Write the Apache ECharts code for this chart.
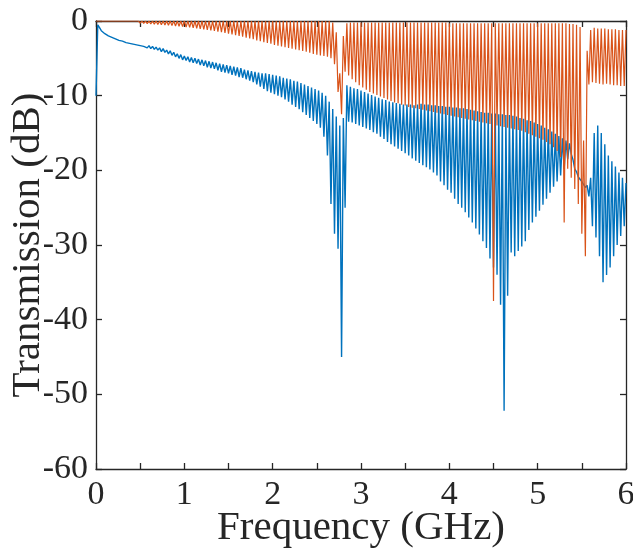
<!DOCTYPE html>
<html>
<head>
<meta charset="utf-8">
<script src="https://cdn.jsdelivr.net/npm/echarts@6/dist/echarts.min.js"></script>
<style>
  html, body { margin: 0; padding: 0; background: #fff; }
  #chart { width: 633px; height: 550px; }
</style>
</head>
<body>
<div id="chart"></div>
<script>
// sweep grid: one sample every 0.02 GHz from 0 to 6 GHz
const freqStep = 0.02

// blue trace (dB)
const blueDb = [
  -10, -0.5, -0.9, -1.3, -1.4, -1.7, -1.7, -2.0, -1.9, -2.2,
  -2.1, -2.4, -2.3, -2.6, -2.4, -2.7, -2.6, -2.9, -2.7, -3.0,
  -2.8, -3.1, -2.9, -3.2, -3.0, -3.3, -3.1, -3.4, -3.2, -3.6,
  -3.3, -3.7, -3.4, -3.8, -3.5, -3.9, -3.6, -4.1, -3.7, -4.2,
  -3.9, -4.4, -4.0, -4.6, -4.2, -4.8, -4.4, -5.0, -4.5, -5.2,
  -4.7, -5.3, -4.8, -5.5, -4.9, -5.6, -5.0, -5.7, -5.1, -5.9,
  -5.2, -6.0, -5.3, -6.2, -5.4, -6.3, -5.5, -6.4, -5.6, -6.6,
  -5.7, -6.8, -5.8, -6.9, -5.9, -7.0, -6.0, -7.2, -6.1, -7.3,
  -6.2, -7.5, -6.3, -7.6, -6.5, -7.8, -6.6, -8.0, -6.7, -8.2,
  -6.8, -8.5, -6.9, -8.8, -7.0, -9.1, -7.0, -9.4, -7.1, -9.6,
  -7.2, -9.8, -7.3, -10.0, -7.4, -10.2, -7.6, -10.5, -7.7, -10.8,
  -7.8, -11.2, -8.0, -11.5, -8.1, -11.8, -8.3, -12.2, -8.5, -12.6,
  -8.7, -13.0, -8.9, -13.4, -9.1, -13.8, -9.3, -14.3, -9.6, -15.5,
  -10.0, -18.0, -10.8, -24.5, -11.8, -28.5, -12.8, -30.5, -14.0, -45.0,
  -13.0, -25.0, -8.6, -13.5, -8.8, -13.6, -9.0, -13.8, -9.1, -14.0,
  -9.3, -14.2, -9.5, -14.4, -9.7, -14.6, -9.9, -14.9, -10.1, -15.1,
  -10.3, -15.5, -10.5, -15.8, -10.6, -16.2, -10.8, -16.5, -10.9, -16.8,
  -11.0, -17.1, -11.1, -17.4, -11.2, -17.7, -11.2, -18.0, -11.2, -18.4,
  -11.3, -18.7, -11.2, -19.0, -11.1, -19.3, -11.2, -19.6, -11.2, -19.9,
  -11.3, -20.3, -11.3, -20.7, -11.4, -21.5, -11.4, -22.0, -11.5, -22.6,
  -11.5, -23.0, -11.6, -23.8, -11.6, -24.5, -11.7, -25.0, -11.7, -25.6,
  -11.8, -26.3, -11.9, -27.0, -12.0, -27.8, -12.1, -28.6, -12.2, -29.5,
  -12.3, -30.4, -12.3, -31.8, -12.4, -33.0, -12.4, -34.0, -12.5, -38.0,
  -12.5, -52.2, -12.6, -36.8, -12.6, -31.0, -12.7, -31.5, -12.8, -30.8,
  -13.0, -30.2, -13.1, -29.5, -13.3, -28.0, -13.4, -27.0, -13.6, -26.2,
  -13.8, -25.4, -14.0, -24.6, -14.3, -23.8, -14.5, -23.0, -14.8, -22.2,
  -15.1, -21.5, -15.4, -20.7, -15.7, -19.8, -16.0, -18.5, -16.4, -17.8,
  -18.6, -19.8, -20.2, -20.9, -20.8, -21.5, -21.4, -22.3, -22.0, -23.5,
  -21.0, -27.5, -15.0, -29.0, -14.0, -31.5, -15.0, -35.0, -16.5, -34.0,
  -18.0, -33.0, -18.8, -31.5, -19.5, -30.0, -20.3, -28.8, -21.0, -27.5,
  -21.7
]

// orange trace (dB)
const orangeDb = [
  0, -0.05, 0, -0.05, 0, -0.1, 0, -0.1, 0, -0.12,
  0, -0.12, 0, -0.14, 0, -0.15, 0, -0.18, 0, -0.2,
  0, -0.23, 0, -0.26, 0, -0.3, 0, -0.33, 0, -0.36,
  0, -0.4, 0, -0.43, 0, -0.46, 0, -0.5, 0, -0.54,
  0, -0.58, 0, -0.62, 0, -0.66, 0, -0.7, 0, -0.75,
  0, -0.8, 0, -0.86, 0, -0.92, 0, -0.99, 0, -1.06,
  0, -1.13, 0, -1.2, 0, -1.26, 0, -1.33, 0, -1.42,
  0, -1.5, 0, -1.6, 0, -1.7, 0, -1.8, 0, -1.9,
  0, -2.0, 0, -2.1, 0, -2.25, 0, -2.35, 0, -2.45,
  0, -2.6, 0, -2.7, 0, -2.85, 0, -2.95, 0, -3.05,
  0, -3.2, 0, -3.3, 0, -3.4, 0, -3.5, 0, -3.6,
  0, -3.7, 0, -3.8, 0, -3.9, 0, -4.0, 0, -4.1,
  0, -4.25, 0, -4.4, 0, -4.5, 0, -4.6, 0, -4.7,
  0, -4.8, 0, -5.0, -0.2, -5.8, -1.5, -9.5, -7.0, -12.5,
  -2.0, -6.8, -0.3, -7.3, -0.2, -7.8, -0.2, -8.2, -0.2, -8.6,
  -0.2, -8.9, -0.2, -9.2, -0.2, -9.5, -0.2, -9.7, -0.2, -9.9,
  -0.2, -10.1, -0.2, -10.3, -0.2, -10.5, -0.2, -10.7, -0.2, -10.9,
  -0.2, -11.0, -0.2, -11.2, -0.2, -11.3, -0.2, -11.5, -0.2, -11.6,
  -0.2, -11.7, -0.2, -11.8, -0.2, -11.9, -0.2, -12.0, -0.2, -12.1,
  -0.2, -12.2, -0.2, -12.3, -0.2, -12.4, -0.2, -12.5, -0.2, -12.6,
  -0.3, -12.7, -0.3, -12.8, -0.3, -12.9, -0.3, -13.0, -0.3, -13.1,
  -0.3, -13.2, -0.3, -13.3, -0.3, -13.4, -0.3, -13.5, -0.3, -13.6,
  -0.3, -13.7, -0.3, -13.8, -0.3, -37.5, -0.3, -14.0, -0.3, -14.1,
  -0.3, -14.2, -0.3, -14.3, -0.3, -14.4, -0.3, -14.5, -0.3, -14.6,
  -0.3, -14.7, -0.3, -14.9, -0.3, -15.1, -0.3, -15.3, -0.3, -15.5,
  -0.3, -15.7, -0.3, -15.9, -0.3, -16.2, -0.3, -16.5, -0.3, -16.9,
  -0.3, -17.4, -0.3, -18.2, -0.3, -27.0, -0.3, -19.8, -0.4, -21.0,
  -0.4, -22.5, -0.5, -24.5, -0.8, -28.5, -16.0, -31.5, -4.0, -8.5,
  -1.2, -8.2, -0.9, -8.3, -1.0, -8.4, -1.0, -8.5, -1.0, -8.4,
  -1.1, -8.5, -1.1, -8.6, -1.1, -8.6, -1.2, -8.7, -1.2, -8.7,
  -1.2
]

const xTicks = [0, 1, 2, 3, 4, 5, 6]
const yTicks = [-60, -50, -40, -30, -20, -10, 0]

const toPoints = vals => vals.map((v, i) => [+(i * freqStep).toFixed(2), v])

const chart = echarts.init(document.getElementById('chart'))

const font = 'Liberation Serif'
const ink = '#262626'
const axisLine = { show: true, onZero: false, lineStyle: { color: ink, width: 1.3 } }
const axisTick = { inside: true, length: 6, lineStyle: { color: ink, width: 1.3 } }

chart.setOption({
  animation: false,
  backgroundColor: '#fff',
  grid: { left: 96, right: 7, top: 21, bottom: 81, outerBoundsMode: 'none', containLabel: false },
  xAxis: [{
    type: 'value',
    min: xTicks[0],
    max: xTicks[xTicks.length - 1],
    interval: 0.5,
    name: 'Frequency (GHz)',
    nameLocation: 'middle',
    nameGap: 39,
    nameMoveOverlap: false,
    nameTextStyle: { fontFamily: font, fontSize: 41, color: ink },
    axisLine,
    axisTick,
    axisLabel: {
      fontFamily: font, fontSize: 34, color: ink, margin: 9,
      formatter: v => (xTicks.includes(v) ? String(v) : '')
    },
    splitLine: { show: false }
  }, {
    type: 'value',
    position: 'top',
    min: xTicks[0],
    max: xTicks[xTicks.length - 1],
    interval: 0.5,
    axisLine,
    axisTick,
    axisLabel: { show: false },
    splitLine: { show: false }
  }],
  yAxis: [{
    type: 'value',
    min: yTicks[0],
    max: yTicks[yTicks.length - 1],
    interval: 10,
    name: 'Transmission (dB)',
    nameLocation: 'middle',
    nameGap: 47,
    nameRotate: 90,
    nameMoveOverlap: false,
    nameTextStyle: { fontFamily: font, fontSize: 41, color: ink },
    axisLine,
    axisTick,
    axisLabel: { fontFamily: font, fontSize: 34, color: ink, margin: 8 },
    splitLine: { show: false }
  }, {
    type: 'value',
    position: 'right',
    min: yTicks[0],
    max: yTicks[yTicks.length - 1],
    interval: 10,
    axisLine,
    axisTick,
    axisLabel: { show: false },
    splitLine: { show: false }
  }],
  series: [{
    type: 'line',
    data: toPoints(blueDb),
    showSymbol: false,
    sampling: 'none',
    lineStyle: { color: '#0072BD', width: 1.4 },
    itemStyle: { color: '#0072BD' },
    z: 2
  }, {
    type: 'line',
    data: toPoints(orangeDb),
    showSymbol: false,
    sampling: 'none',
    lineStyle: { color: '#D95319', width: 1.2 },
    itemStyle: { color: '#D95319' },
    z: 3
  }]
})
</script>
</body>
</html>
